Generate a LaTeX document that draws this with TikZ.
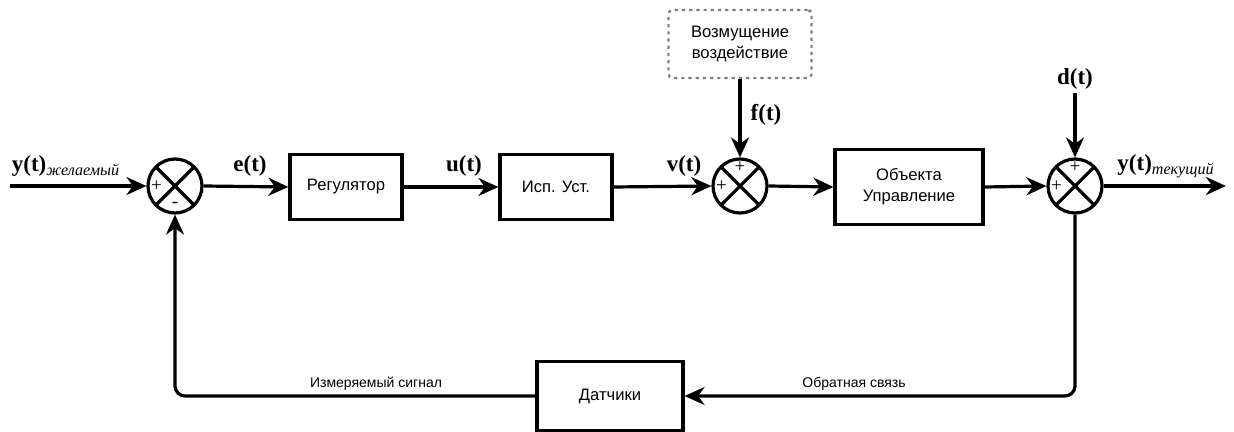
\documentclass[tikz,border=0pt]{standalone}
\usepackage{fontspec}
\setmainfont{Liberation Serif}
\setsansfont{Liberation Sans}
\usepackage{tikz}
\usetikzlibrary{arrows.meta,calc}

\tikzset{
  block/.style={draw, line width=1.6pt, minimum width=56pt, minimum height=32.5pt,
    align=center, font=\sffamily\fontsize{8.3}{10.5}\selectfont},
  summer/.style={draw, circle, line width=1.6pt, minimum size=27pt, inner sep=0pt,
    path picture={\draw[line width=1.6pt]
      (path picture bounding box.north west) -- (path picture bounding box.south east)
      (path picture bounding box.north east) -- (path picture bounding box.south west);}},
  sig/.style={font=\bfseries\fontsize{11.5}{13}\selectfont},
  sign/.style={inner sep=0pt, font=\fontsize{9.5}{9.5}\selectfont},
  note/.style={font=\sffamily\fontsize{7}{8}\selectfont},
  wire/.style={line width=1.6pt, -{Stealth[length=10pt,width=9pt]}}
}

\begin{document}
\begin{tikzpicture}[x=0.5pt, y=-0.5pt]
    %\draw[step=50,gray,very thin] (0,0) grid (1234,432);
    \useasboundingbox (0,0) rectangle (1234,432);

    % blocks
    \node[summer] (s1) at (175,186) {};
    \node[block] (reg) at (346,187) {Регулятор};
    \node[block] (isp) at (556,187) {Исп. Уст.};
    \node[summer] (s2) at (740,186) {};
    \node[block, draw=gray, dotted, line width=1.2pt, rounded corners=2pt,
      minimum width=71.5pt, minimum height=34pt] (dist) at (740,44) {Возмущение\\воздействие};
    \node[block, minimum width=74pt, minimum height=37.5pt] (obj) at (909,187) {Объекта\\Управление};
    \node[summer] (s3) at (1075,186) {};
    \node[block, minimum width=73pt, minimum height=34.5pt] (sens) at (610,396) {Датчики};

    \coordinate (in) at (10,186);
    \coordinate (out) at (1226,186);
    \coordinate (dtop) at (1075,93);

    % signs
    \node[sign] (s1a) at ([xshift=5pt]s1.west) {+};
    \node[sign] (s1b) at ([yshift=5pt]s1.south) {-};
    \node[sign] (s2a) at ([xshift=5pt]s2.west) {+};
    \node[sign] (s2b) at ([yshift=-5pt]s2.north) {+};
    \node[sign] (s3a) at ([xshift=5pt]s3.west) {+};
    \node[sign] (s3b) at ([yshift=-5pt]s3.north) {+};

    % forward path
    \draw[wire] (in) -- (s1.west);
    \draw[wire] (s1.east) -- (reg.west);
    \draw[wire] (reg.east) -- (isp.west);
    \draw[wire] (isp.east) -- (s2.west);
    \draw[wire] (dist.south) -- (s2.north);
    \draw[wire] (s2.east) -- (obj.west);
    \draw[wire] (obj.east) -- (s3.west);
    \draw[wire] (dtop) -- (s3.north);
    \draw[wire] (s3.east) -- (out);

    % feedback
    \draw[wire, rounded corners=5pt] (s3.south) |- (sens.east);
    \draw[wire, rounded corners=5pt] (sens.west) -| (s1.south);

    % signal labels
    \node[sig] (ly) at (66,166) {y(t)\textsubscript{\textit{\mdseries желаемый}}};
    \node[sig] (le) at (250,166) {e(t)};
    \node[sig] (lu) at (464,166) {u(t)};
    \node[sig] (lv) at (684,166) {v(t)};
    \node[sig] (lf) at (766,115) {f(t)};
    \node[sig] (ld) at (1075,79) {d(t)};
    \node[sig] (lyt) at (1166,166) {y(t)\textsubscript{\textit{\mdseries текущий}}};
    \node[note] (lm) at (376,384) {Измеряемый сигнал};
    \node[note] (lo) at (854,384) {Обратная связь};

\end{tikzpicture}
\end{document}
